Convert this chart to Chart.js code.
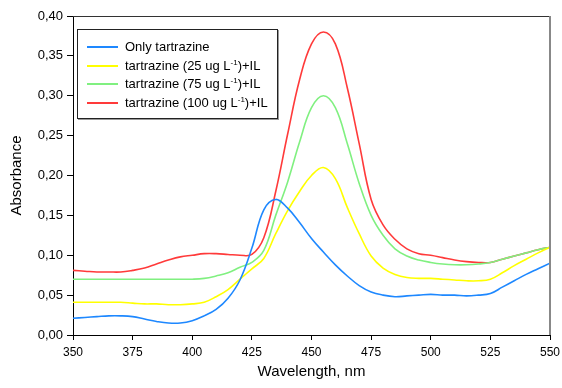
<!DOCTYPE html>
<html>
<head>
<meta charset="utf-8">
<script src="https://cdn.jsdelivr.net/npm/chart.js@4.4.1/dist/chart.umd.min.js"></script>
<style>
    html, body { margin: 0; padding: 0; background: #fff; }
    #wrap { position: relative; width: 562px; height: 388px; }
    #legend {
        position: absolute; left: 77px; top: 29px; width: 199px; height: 88px;
        border: 1px solid #222; box-shadow: 1px 1px 0 #999;
        background: #fff; box-sizing: content-box;
        font-family: "Liberation Sans", Arial, sans-serif; font-size: 13px; color: #000;
    }
    #legend .row { position: absolute; left: 0; height: 18px; line-height: 18px; white-space: nowrap; }
    #legend .swatch { position: absolute; left: 9px; top: 8px; width: 31px; height: 2px; }
    #legend .txt { position: absolute; left: 47px; top: 0; }
    #legend sup { font-size: 8px; line-height: 0; vertical-align: 0; position: relative; top: -5px; }
</style>
</head>
<body>
<div id="wrap">
    <canvas id="spectra-chart" width="562" height="388"></canvas>
    <div id="legend"></div>
</div>
<script>
// wavelength (nm)
const wavelengths = [350, 355, 360, 365, 370, 375, 380, 385, 390, 395,
                     400, 405, 410, 415, 420, 425, 430, 435, 440, 445,
                     450, 455, 460, 465, 470, 475, 480, 485, 490, 495,
                     500, 505, 510, 515, 520, 525, 530, 535, 540, 545, 550];

// absorbance
const onlyTartrazine = [0.021, 0.022, 0.023, 0.024, 0.024, 0.023, 0.020, 0.017, 0.015, 0.015,
                        0.018, 0.024, 0.032, 0.046, 0.069, 0.109, 0.157, 0.170, 0.159, 0.141,
                        0.121, 0.104, 0.088, 0.074, 0.062, 0.054, 0.050, 0.048, 0.049, 0.050,
                        0.051, 0.050, 0.050, 0.049, 0.050, 0.052, 0.060, 0.068, 0.076, 0.083, 0.090];

const tartrazine25 = [0.041, 0.041, 0.041, 0.041, 0.041, 0.040, 0.039, 0.039, 0.038, 0.038,
                      0.039, 0.041, 0.048, 0.057, 0.070, 0.083, 0.096, 0.127, 0.156, 0.180,
                      0.200, 0.210, 0.196, 0.160, 0.127, 0.099, 0.084, 0.076, 0.072, 0.071,
                      0.071, 0.070, 0.069, 0.068, 0.068, 0.070, 0.078, 0.087, 0.095, 0.103, 0.110];

const tartrazine75 = [0.070, 0.070, 0.070, 0.070, 0.070, 0.070, 0.070, 0.070, 0.070, 0.070,
                      0.070, 0.071, 0.074, 0.078, 0.085, 0.091, 0.106, 0.150, 0.192, 0.242,
                      0.285, 0.300, 0.285, 0.240, 0.190, 0.150, 0.125, 0.108, 0.099, 0.094,
                      0.091, 0.089, 0.088, 0.088, 0.089, 0.091, 0.095, 0.099, 0.103, 0.107, 0.110];

const tartrazine100 = [0.081, 0.080, 0.079, 0.079, 0.079, 0.081, 0.084, 0.089, 0.094, 0.098,
                       0.100, 0.102, 0.102, 0.101, 0.100, 0.101, 0.122, 0.180, 0.252, 0.320,
                       0.365, 0.380, 0.365, 0.310, 0.240, 0.170, 0.138, 0.120, 0.108, 0.102,
                       0.100, 0.097, 0.094, 0.092, 0.091, 0.091, 0.095, 0.099, 0.103, 0.107, 0.110];

const seriesLabels = [
    'Only tartrazine',
    'tartrazine (25 ug L<sup>-1</sup>)+IL',
    'tartrazine (75 ug L<sup>-1</sup>)+IL',
    'tartrazine (100 ug L<sup>-1</sup>)+IL'
];
const seriesValues = [onlyTartrazine, tartrazine25, tartrazine75, tartrazine100];
const seriesColors = ['#1e88ff', '#ffff00', '#80f080', '#ff3a3a'];

const FONT = '"Liberation Sans", Arial, sans-serif';

// 把数值转成 {x, y}
function toPoints(values) {
    return wavelengths.map((w, i) => ({ x: w, y: values[i] }));
}

// 上边框和右边框
const frameLines = {
    id: 'frameLines',
    afterDraw(chart) {
        const { ctx, chartArea: a } = chart;
        ctx.save();
        ctx.strokeStyle = '#333';
        ctx.lineWidth = 1;
        ctx.beginPath();
        ctx.moveTo(a.left, a.top + 0.5);
        ctx.lineTo(a.right, a.top + 0.5);
        ctx.stroke();
        ctx.strokeStyle = '#888';
        ctx.lineWidth = 2;
        ctx.beginPath();
        ctx.moveTo(a.right, a.top);
        ctx.lineTo(a.right, a.bottom);
        ctx.stroke();
        ctx.restore();
    }
};

const chart = new Chart(document.getElementById('spectra-chart'), {
    type: 'line',
    data: {
        datasets: seriesValues.map((vals, i) => ({
            label: seriesLabels[i],
            data: toPoints(vals),
            borderColor: seriesColors[i],
            backgroundColor: seriesColors[i],
            borderWidth: 1.6,
            pointRadius: 0,
            fill: false,
            tension: 0.4
        }))
    },
    options: {
        responsive: false,
        animation: false,
        devicePixelRatio: 1,
        layout: { padding: { top: 16, right: 12, left: 0, bottom: 0 } },
        plugins: {
            legend: { display: false },
            tooltip: { enabled: false }
        },
        scales: {
            x: {
                type: 'linear',
                min: 350,
                max: 550,
                afterFit(scale) {
                    scale.height = 53;
                    scale.paddingLeft = 0;
                    scale.paddingRight = 0;
                },
                ticks: {
                    stepSize: 25,
                    color: '#000',
                    padding: 5,
                    maxRotation: 0,
                    font: { family: FONT, size: 12 }
                },
                grid: { drawOnChartArea: false, drawTicks: true, tickLength: 5, color: '#000' },
                border: { display: true, color: '#000' },
                title: {
                    display: true,
                    text: 'Wavelength, nm',
                    color: '#000',
                    font: { family: FONT, size: 15 },
                    padding: { top: 0, bottom: 7 }
                }
            },
            y: {
                min: 0,
                max: 0.4,
                afterFit(scale) { scale.width = 73; },
                ticks: {
                    stepSize: 0.05,
                    color: '#000',
                    padding: 4,
                    font: { family: FONT, size: 13 },
                    callback: v => v.toFixed(2).replace('.', ',')
                },
                grid: { drawOnChartArea: false, drawTicks: true, tickLength: 6, color: '#000' },
                border: { display: true, color: '#000' },
                title: {
                    display: true,
                    text: 'Absorbance',
                    color: '#000',
                    font: { family: FONT, size: 15 },
                    padding: { top: 8, bottom: 8 }
                }
            }
        }
    },
    plugins: [frameLines]
});

// 图例
const legendEl = document.getElementById('legend');
seriesLabels.forEach((label, i) => {
    const row = document.createElement('div');
    row.className = 'row';
    row.style.top = (8 + i * 18.7) + 'px';
    row.innerHTML = '<span class="swatch" style="background:' + seriesColors[i] + '"></span>' +
                    '<span class="txt">' + label + '</span>';
    legendEl.appendChild(row);
});
</script>
</body>
</html>
